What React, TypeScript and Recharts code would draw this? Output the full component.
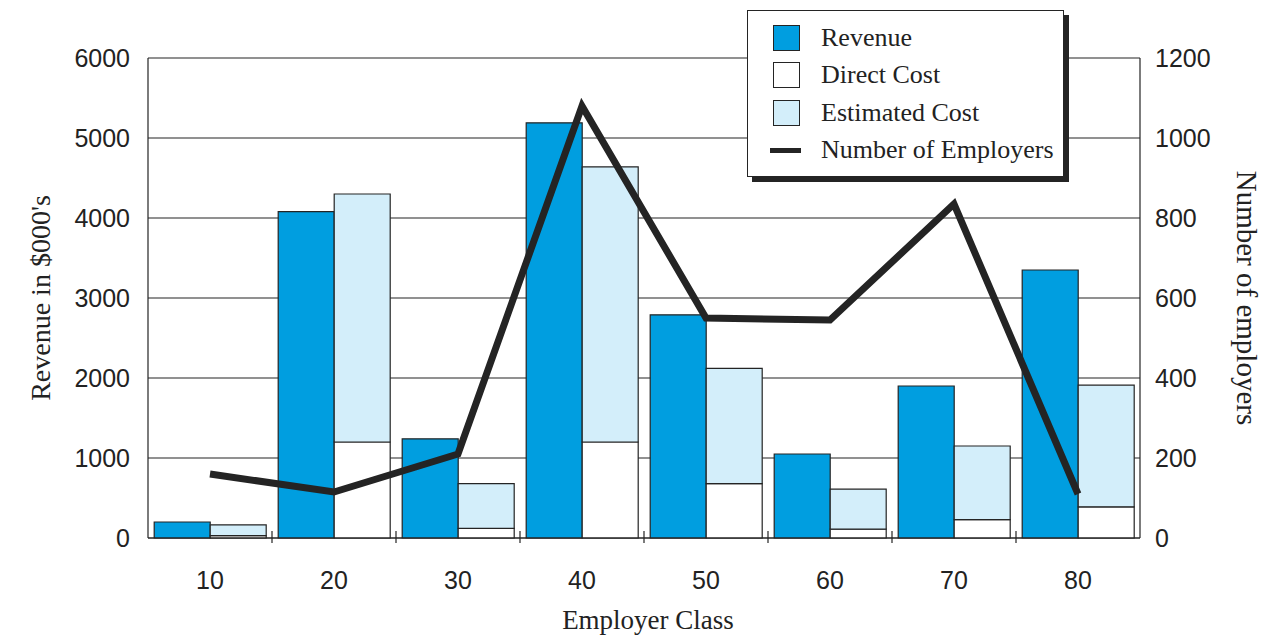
import React from 'react';
import {
  ComposedChart,
  Bar,
  Line,
  XAxis,
  YAxis,
  CartesianGrid,
  Legend,
} from 'recharts';

// chart data
const classes = ['10', '20', '30', '40', '50', '60', '70', '80'];
const revenue = [200, 4080, 1240, 5190, 2790, 1050, 1900, 3350];
const directCost = [30, 1200, 120, 1200, 680, 110, 230, 390];
const estimatedCost = [135, 3100, 560, 3440, 1440, 500, 920, 1520];
const employers = [160, 115, 210, 1080, 550, 545, 835, 110];

const leftTicks = [0, 1000, 2000, 3000, 4000, 5000, 6000];
const rightTicks = [0, 200, 400, 600, 800, 1000, 1200];

const BLUE = '#009ee0';
const LIGHT = '#d3eefa';
const INK = '#242424';
const SANS = '"Liberation Sans", Arial, sans-serif';
const SERIF = '"Liberation Serif", "Times New Roman", serif';

const legendItems = [
  { name: 'Revenue', color: BLUE, kind: 'rect' },
  { name: 'Direct Cost', color: '#ffffff', kind: 'rect' },
  { name: 'Estimated Cost', color: LIGHT, kind: 'rect' },
  { name: 'Number of Employers', color: INK, kind: 'line' },
];

const data = classes.map((cls, i) => ({
  cls,
  revenue: revenue[i],
  direct: directCost[i],
  estimated: estimatedCost[i],
  employers: employers[i],
}));

const PLOT_W = 992;

function ClassTick(props: any) {
  const { x, y, payload, index } = props;
  const band = PLOT_W / classes.length;
  return (
    <g>
      {index > 0 && (
        <line x1={x - band / 2} x2={x - band / 2} y1={y - 7} y2={y + 5} stroke={INK} strokeWidth={1.2} />
      )}
      <text x={x} y={y + 51} textAnchor="middle" fontFamily={SANS} fontSize={25} fill="#222">
        {payload.value}
      </text>
    </g>
  );
}

function AxisTitle(props: any) {
  const { viewBox, value, side } = props;
  const { x, y, width, height } = viewBox;
  if (side === 'bottom') {
    return (
      <text x={x + width / 2 + 4} y={y + 91} textAnchor="middle" fontFamily={SERIF} fontSize={27} fill="#222">
        {value}
      </text>
    );
  }
  const cx = side === 'left' ? 40 : x + 107;
  const cy = y + height / 2;
  const angle = side === 'left' ? -90 : 90;
  return (
    <text
      x={cx}
      y={cy}
      transform={`rotate(${angle}, ${cx}, ${cy})`}
      textAnchor="middle"
      dominantBaseline="central"
      fontFamily={SERIF}
      fontSize={side === 'left' ? 28 : 29}
      fill="#222"
    >
      {value}
    </text>
  );
}

function LegendBox() {
  return (
    <div
      style={{
        boxSizing: 'border-box',
        width: 317,
        height: 167,
        border: `1.5px solid ${INK}`,
        boxShadow: `5px 5px 0 ${INK}`,
        background: '#fff',
        padding: '8px 0 0 25px',
        fontFamily: SERIF,
        fontSize: 26,
        color: '#222',
      }}
    >
      {legendItems.map((item) => (
        <div key={item.name} style={{ display: 'flex', alignItems: 'center', height: 37.5 }}>
          {item.kind === 'rect' ? (
            <span
              style={{
                display: 'inline-block',
                boxSizing: 'border-box',
                width: 27,
                height: 26,
                background: item.color,
                border: `1.5px solid ${INK}`,
              }}
            />
          ) : (
            <span
              style={{
                display: 'inline-block',
                width: 31,
                height: 5,
                marginLeft: -3,
                marginRight: -1,
                background: item.color,
              }}
            />
          )}
          <span style={{ marginLeft: 21, whiteSpace: 'nowrap' }}>{item.name}</span>
        </div>
      ))}
    </div>
  );
}

export default function App() {
  return (
    <div style={{ position: 'absolute', left: 0, top: 0, background: '#fff' }}>
      <ComposedChart
        width={1287}
        height={638}
        data={data}
        margin={{ top: 58, right: 0, bottom: 0, left: 0 }}
        barCategoryGap="5%"
        barGap={0}
      >
        <CartesianGrid yAxisId="left" vertical={false} stroke={INK} strokeWidth={1.2} />
        <XAxis
          dataKey="cls"
          height={100}
          interval={0}
          axisLine={{ stroke: INK, strokeWidth: 1.2 }}
          tickLine={false}
          tickSize={0}
          tickMargin={0}
          tick={(p: any) => <ClassTick {...p} />}
          label={<AxisTitle value="Employer Class" side="bottom" />}
        />
        <YAxis
          yAxisId="left"
          width={148}
          domain={[0, 6000]}
          ticks={leftTicks}
          interval={0}
          axisLine={{ stroke: INK, strokeWidth: 1.2 }}
          tickLine={false}
          tickSize={0}
          tickMargin={18}
          tick={{ fontFamily: SANS, fontSize: 25, fill: '#222' }}
          label={<AxisTitle value="Revenue in $000's" side="left" />}
        />
        <YAxis
          yAxisId="right"
          orientation="right"
          width={147}
          domain={[0, 1200]}
          ticks={rightTicks}
          interval={0}
          axisLine={{ stroke: INK, strokeWidth: 1.2 }}
          tickLine={false}
          tickSize={0}
          tickMargin={15}
          tick={{ fontFamily: SANS, fontSize: 25, fill: '#222', textAnchor: 'start' }}
          label={<AxisTitle value="Number of employers" side="right" />}
        />
        <Legend
          layout="vertical"
          align="center"
          verticalAlign="middle"
          content={() => <LegendBox />}
          wrapperStyle={{ left: 747, top: 10, width: 317, height: 167 }}
        />
        <Bar
          yAxisId="left"
          dataKey="revenue"
          name="Revenue"
          stackId="rev"
          fill={BLUE}
          stroke={INK}
          strokeWidth={1.2}
          isAnimationActive={false}
        />
        <Bar
          yAxisId="left"
          dataKey="direct"
          name="Direct Cost"
          stackId="cost"
          fill="#ffffff"
          stroke={INK}
          strokeWidth={1.2}
          isAnimationActive={false}
        />
        <Bar
          yAxisId="left"
          dataKey="estimated"
          name="Estimated Cost"
          stackId="cost"
          fill={LIGHT}
          stroke={INK}
          strokeWidth={1.2}
          isAnimationActive={false}
        />
        <Line
          yAxisId="right"
          dataKey="employers"
          name="Number of Employers"
          type="linear"
          stroke={INK}
          strokeWidth={7}
          strokeLinejoin="miter"
          strokeLinecap="butt"
          dot={false}
          activeDot={false}
          isAnimationActive={false}
        />
      </ComposedChart>
    </div>
  );
}
